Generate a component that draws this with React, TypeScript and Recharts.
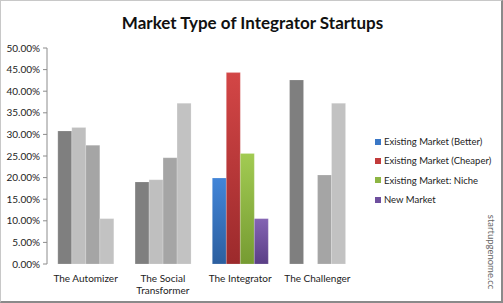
import React from 'react';
import { BarChart, Bar, XAxis, YAxis, Cell } from 'recharts';

const categories = ['The Automizer', 'The Social Transformer', 'The Integrator', 'The Challenger'];
const seriesNames = [
  'Existing Market (Better)',
  'Existing Market (Cheaper)',
  'Existing Market: Niche',
  'New Market',
];
const better = [0.308, 0.19, 0.199, 0.426];
const cheaper = [0.316, 0.195, 0.443, 0];
const niche = [0.275, 0.246, 0.256, 0.206];
const newMarket = [0.105, 0.372, 0.105, 0.372];
const yTicks = [0, 0.05, 0.1, 0.15, 0.2, 0.25, 0.3, 0.35, 0.4, 0.45, 0.5];
const edgeTicks = [0, 1, 2, 3, 4];

const FONT = 'Lato, "Open Sans", sans-serif';
const HIGHLIGHT = 'The Integrator';

const KEYS = ['better', 'cheaper', 'niche', 'newMarket'];
const GRAYS = ['#7f7f7f', '#bfbfbf', '#a5a5a5', '#c2c2c2'];
const COLORS = ['#3a77c6', '#c23b3b', '#8db543', '#6e4f9e'];
const GRADS = [
  ['#4285d8', '#2c5f9f'],
  ['#d34646', '#9c2a2c'],
  ['#a2cb52', '#769b32'],
  ['#8464b3', '#5a3e86'],
];

const data = categories.map((name, i) => ({
  name,
  better: better[i],
  cheaper: cheaper[i],
  niche: niche[i],
  newMarket: newMarket[i],
}));

// wrap long category names onto two lines
const CategoryTick = (props: any) => {
  const { x, y, payload } = props;
  const words = String(payload.value).split(' ');
  const lines: string[] = [];
  let cur = '';
  words.forEach((w) => {
    const next = cur ? cur + ' ' + w : w;
    if (next.length > 14 && cur) {
      lines.push(cur);
      cur = w;
    } else {
      cur = next;
    }
  });
  if (cur) lines.push(cur);
  return (
    <text x={x} y={y + 10} textAnchor="middle" fill="#222" fontSize={10} fontFamily={FONT}>
      {lines.map((l, i) => (
        <tspan key={i} x={x} dy={i === 0 ? 0 : 12}>
          {l}
        </tspan>
      ))}
    </text>
  );
};

export default function App() {
  return (
    <div
      style={{
        position: 'fixed',
        left: 0,
        top: 0,
        width: 503,
        height: 303,
        background: '#fff',
        boxSizing: 'border-box',
        borderTop: '1px solid #c8c8c8',
        borderLeft: '1px solid #c8c8c8',
        borderRight: '2px solid #8a8a8a',
        borderBottom: '2px solid #8a8a8a',
        fontFamily: FONT,
      }}
    >
      <div
        style={{
          position: 'absolute',
          left: 0,
          width: 503,
          top: 11,
          textAlign: 'center',
          fontSize: 17,
          fontWeight: 700,
          color: '#111',
        }}
      >
        Market Type of Integrator Startups
      </div>
      <div style={{ position: 'absolute', left: -1, top: -1 }}>
        <BarChart
          width={503}
          height={303}
          data={data}
          margin={{ top: 48, right: 147, left: 0, bottom: 0 }}
          barCategoryGap="14%"
          barGap={0}
        >
          <defs>
            {GRADS.map((g, i) => (
              <linearGradient key={i} id={`grad${i}`} x1="0" y1="0" x2="0" y2="1">
                <stop offset="0%" stopColor={g[0]} />
                <stop offset="100%" stopColor={g[1]} />
              </linearGradient>
            ))}
          </defs>
          <XAxis
            xAxisId="edge"
            type="number"
            domain={[0, 4]}
            ticks={edgeTicks}
            tick={false}
            height={0}
            tickSize={4}
            stroke="#8c8c8c"
            allowDataOverflow
          />
          <XAxis
            dataKey="name"
            height={39}
            axisLine={false}
            tickLine={false}
            interval={0}
            tick={<CategoryTick />}
          />
          <YAxis
            width={47}
            domain={[0, 0.5]}
            ticks={yTicks}
            tickFormatter={(v: number) => (v * 100).toFixed(2) + '%'}
            tick={{ fill: '#222', fontSize: 10, fontFamily: FONT }}
            tickSize={4}
            tickMargin={3}
            stroke="#8c8c8c"
            interval={0}
          />
          {KEYS.map((k, si) => (
            <Bar
              key={k}
              dataKey={k}
              name={seriesNames[si]}
              fill={COLORS[si]}
              isAnimationActive={false}
              stroke="rgba(255,255,255,0.3)"
              strokeWidth={0.6}
            >
              {categories.map((c) => (
                <Cell key={c} fill={c === HIGHLIGHT ? `url(#grad${si})` : GRAYS[si]} />
              ))}
            </Bar>
          ))}
        </BarChart>
      </div>
      <div
        style={{
          position: 'absolute',
          left: 374,
          top: 131,
          fontSize: 9.5,
          color: '#222',
          whiteSpace: 'nowrap',
        }}
      >
        {seriesNames.map((n, i) => (
          <div key={n} style={{ display: 'flex', alignItems: 'center', height: 19.3 }}>
            <span
              style={{ width: 6, height: 6, background: COLORS[i], marginRight: 3, display: 'inline-block' }}
            />
            <span>{n}</span>
          </div>
        ))}
      </div>
      <div
        style={{
          position: 'absolute',
          left: 490,
          top: 251,
          transform: 'translate(-50%, -50%) rotate(90deg)',
          fontSize: 9.5,
          color: '#666',
          whiteSpace: 'nowrap',
        }}
      >
        startupgenome.cc
      </div>
    </div>
  );
}
